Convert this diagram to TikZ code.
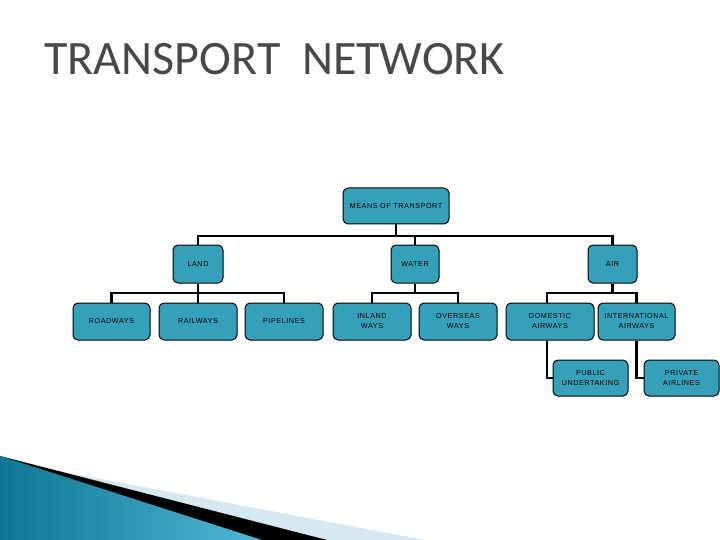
\documentclass[tikz,border=0pt]{standalone}
\usepackage{fontspec}
\setmainfont{Liberation Sans}
\newfontfamily\titlefont{Carlito}
\newfontfamily\boxfont[LetterSpace=8]{Liberation Sans}
\definecolor{boxteal}{RGB}{52,160,186}
\definecolor{titlegray}{RGB}{72,72,72}
\definecolor{paleblue}{RGB}{214,232,240}
\definecolor{darkteal}{RGB}{14,118,146}
\definecolor{lightteal}{RGB}{80,184,214}
\begin{document}
\begin{tikzpicture}[x=1pt,y=-1pt,
  box/.style={draw=black, line width=1pt, fill=boxteal, rounded corners=5pt,
    minimum height=37pt, inner sep=1pt, align=center,
    font=\boxfont\fontsize{7.2}{10}\selectfont, text=black},
  conn/.style={draw=black, line width=2.6pt}]
\useasboundingbox (0,0) rectangle (720,540);
% bottom decoration
\fill[paleblue] (0,460) -- (425,540) -- (0,540) -- cycle;
\fill[black] (0,456) -- (327,540) -- (0,540) -- cycle;
\shade[left color=darkteal, right color=lightteal] (0,456) -- (262,540) -- (0,540) -- cycle;
% title
\node[anchor=west, text=titlegray, font=\titlefont\fontsize{48}{52}\selectfont] (title) at (41,59) {TRANSPORT\ \ NETWORK};
% nodes
\node[box, minimum width=106pt, minimum height=36pt] (means) at (396,206) {MEANS OF TRANSPORT};
\node[box, minimum width=50pt, minimum height=38pt] (land) at (198,264) {LAND};
\node[box, minimum width=48pt, minimum height=38pt] (water) at (415,264) {WATER};
\node[box, minimum width=49pt, minimum height=38pt] (air) at (612.5,264) {AIR};
\node[box, minimum width=77pt] (road) at (111.5,321.5) {ROADWAYS};
\node[box, minimum width=78pt] (rail) at (198,321.5) {RAILWAYS};
\node[box, minimum width=78pt] (pipe) at (284,321.5) {PIPELINES};
\node[box, minimum width=78pt] (inland) at (372,321.5) {INLAND\\WAYS};
\node[box, minimum width=78pt] (overseas) at (458,321.5) {OVERSEAS\\WAYS};
\node[box, minimum width=88pt] (domestic) at (550,321.5) {DOMESTIC\\AIRWAYS};
\node[box, minimum width=77pt] (intl) at (636.5,321.5) {INTERNATIONAL\\AIRWAYS};
\node[box, minimum width=75pt, minimum height=36pt] (public) at (590.5,378) {PUBLIC\\UNDERTAKING};
\node[box, minimum width=75pt, minimum height=36pt] (private) at (681.5,378) {PRIVATE\\AIRLINES};
% bar coordinates
\coordinate (b1) at (396,236);
\coordinate (b2) at (198,293);
\coordinate (b3) at (415,293);
\coordinate (b4) at (612.5,293);
% connectors
\draw[conn] (means.south) -- (b1);
\draw[conn] (land.north) |- (b1) -| (air.north);
\draw[conn] (water.north) -- (water.north |- b1);
\draw[conn] (land.south) -- (rail.north);
\draw[conn] (road.north) |- (b2) -| (pipe.north);
\draw[conn] (water.south) -- (b3);
\draw[conn] (inland.north) |- (b3) -| (overseas.north);
\draw[conn] (air.south) -- (b4);
\draw[conn] ([xshift=-3pt]domestic.north) |- (b4) -| (intl.north);
\draw[conn] ([xshift=-3pt]domestic.south) |- (public.west);
\draw[conn] (intl.south) |- (private.west);
\end{tikzpicture}
\end{document}
